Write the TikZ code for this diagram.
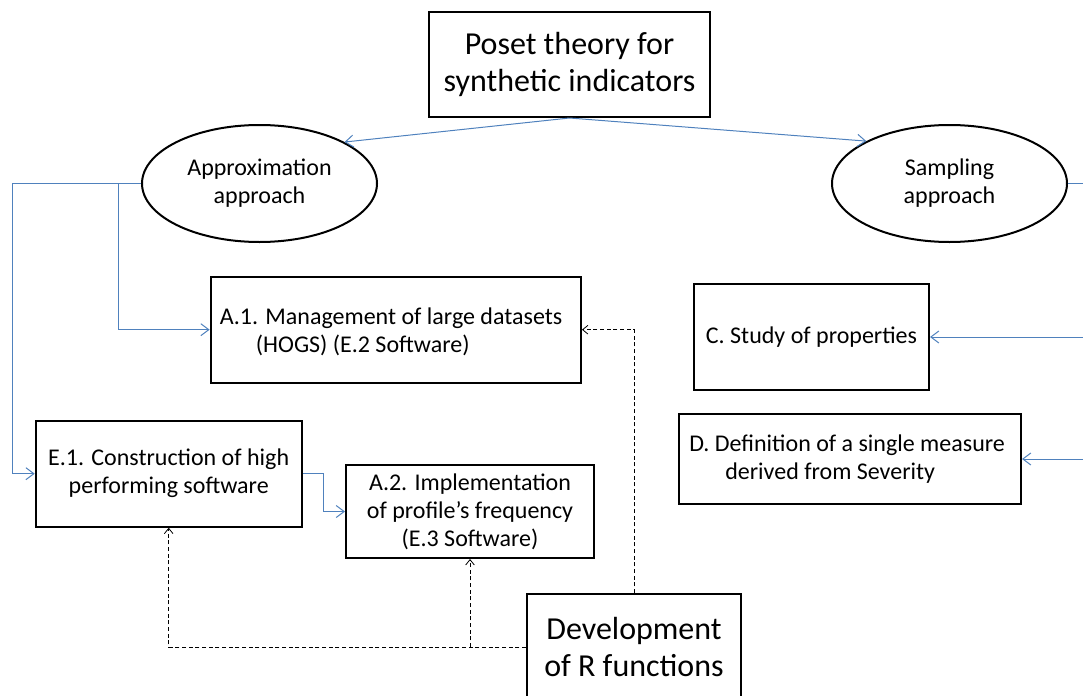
\documentclass[tikz,border=0pt]{standalone}
\usepackage{fontspec}
\setmainfont{Carlito}
\usetikzlibrary{arrows.meta,calc,shapes.geometric}
\definecolor{linkblue}{RGB}{79,129,189}
\begin{document}
\begin{tikzpicture}[x=0.75pt,y=-0.75pt,
  box/.style={draw=black,line width=1.5pt,rectangle,inner sep=2pt,
    font=\fontsize{18}{21}\selectfont,align=center},
  bigbox/.style={box,font=\fontsize{24}{27.5}\selectfont},
  boxtext/.style={inner sep=0pt,anchor=west,align=left,
    font=\fontsize{18}{21}\selectfont},
  oval/.style={draw=black,line width=1.5pt,ellipse,inner sep=0pt,
    minimum width=176.25pt,minimum height=87.75pt,
    font=\fontsize{18}{21}\selectfont,align=center},
  flow/.style={draw=linkblue,line width=0.75pt,
    -{Straight Barb[length=6pt,width=9pt]}},
  plain/.style={draw=linkblue,line width=0.75pt},
  rfun/.style={draw=black,line width=0.6pt,dash pattern=on 3pt off 2pt,
    -{Straight Barb[length=4pt,width=6.5pt]}}]
\useasboundingbox (0,0) rectangle (1083,696);
\clip (0,0) rectangle (1083,696);

% main nodes
\node[bigbox,minimum width=210.75pt,minimum height=78.75pt] (poset) at (569.5,64.5)
  {Poset theory for\\synthetic indicators};
\node[oval] (approx) at (259.5,183.5) {Approximation\\approach};
\node[oval] (samp) at (949.5,183.5) {Sampling\\approach};

\node[box,minimum width=277.75pt,minimum height=79.5pt] (a1) at (395.8,329.7) {};
\node[boxtext] (a1text) at ($(a1.west)+(10,2)$)
  {A.1. Management of large datasets\\\hspace*{27pt}(HOGS) (E.2 Software)};
\node[box,minimum width=199.5pt,minimum height=79.5pt] (e1) at (168.7,473.7)
  {E.1. Construction of high\\performing software};
\node[box,minimum width=186pt,minimum height=69.75pt] (a2) at (470,511.5)
  {A.2. Implementation\\of profile’s frequency\\(E.3 Software)};
\node[box,minimum width=176.25pt,minimum height=79.5pt] (c) at (811.5,337)
  {C. Study of properties};
\node[box,minimum width=256.5pt,minimum height=67.5pt] (d) at (850,459) {};
\node[boxtext] (dtext) at ($(d.west)+(11,0)$)
  {D. Definition of a single measure\\\hspace*{27pt}derived from Severity};
\node[bigbox,minimum width=160.5pt,minimum height=79.5pt] (dev) at (634,647)
  {Development\\of R functions};

% helper points
\coordinate (rail) at (12,183.5);
\coordinate (fork) at (118,183.5);
\coordinate (bend) at (323,473.7);
\coordinate (cin) at (1083,337);
\coordinate (din) at (1083,459);
\coordinate (sout) at (1083,183.5);
\coordinate (split) at (a2.south |- dev.west);

% solid blue connectors
\draw[flow] (poset.south) -- (approx.26.4);
\draw[flow] (poset.south) -- (samp.153.8);
\draw[flow] (approx.west) -- (rail) |- (e1.west);
\draw[flow] (fork) |- (a1.west);
\draw[flow] (e1.east) -- (bend) |- (a2.west);
\draw[plain] (samp.east) -- (sout);
\draw[flow] (cin) -- (c.east);
\draw[flow] (din) -- (d.east);

% dashed connectors from the R functions box
\draw[rfun] (dev.west) -| (e1.south);
\draw[rfun] (split) -- (a2.south);
\draw[rfun] (dev.north) |- (a1.east);
\end{tikzpicture}
\end{document}
